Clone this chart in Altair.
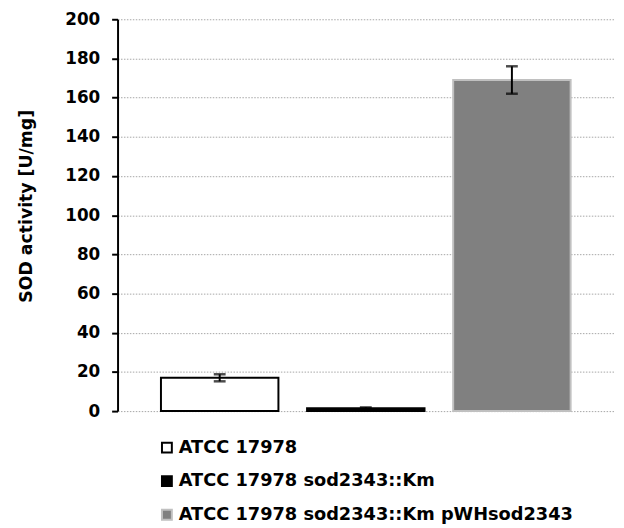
import altair as alt
import pandas as pd

strains = ["ATCC 17978", "ATCC 17978 sod2343::Km", "ATCC 17978 sod2343::Km pWHsod2343"]
activity = [17.0, 1.5, 169.0]
error = [1.8, 0.4, 7.0]
y_ticks = [0, 20, 40, 60, 80, 100, 120, 140, 160, 180, 200]

fills = ["#ffffff", "#000000", "#808080"]
strokes = ["#000000", "#000000", "#c0c0c0"]
stroke_widths = [2, 2, 1]

df = pd.DataFrame({
    "strain": strains,
    "activity": activity,
    "lo": [v - e for v, e in zip(activity, error)],
    "hi": [v + e for v, e in zip(activity, error)],
})

FONT = "DejaVu Sans"

x = alt.X("strain:N", scale=alt.Scale(domain=strains, paddingInner=0.196, paddingOuter=0.297), axis=None)
yscale = alt.Scale(domain=[0, 200], nice=False)
yaxis = alt.Axis(
    values=y_ticks, tickCount=11, title="SOD activity [U/mg]",
    labelOverlap=False,
    labelFont=FONT, labelFontSize=17, labelFontWeight="bold", labelColor="#000000",
    labelPadding=12,
    titleFont=FONT, titleFontSize=17.5, titleFontWeight="bold", titleColor="#000000",
    titleAngle=270, titleX=-92, titleY=189, titleAlign="center", titleBaseline="middle",
    domainColor="#000000", domainWidth=2, tickColor="#000000", tickWidth=2, tickSize=6,
    grid=True, gridColor="#a6a6a6", gridDash=[1.5, 1.5], gridWidth=1,
)

legend = alt.Legend(
    title=None, orient="none", legendX=41, legendY=425, direction="vertical",
    symbolType="square", symbolSize=100, symbolStrokeWidth=1.5,
    labelFont=FONT, labelFontSize=18, labelFontWeight="bold", labelColor="#000000",
    labelOffset=3, rowPadding=16, padding=0, labelLimit=600,
)

bars = alt.Chart(df).mark_bar().encode(
    x=x,
    y=alt.Y("activity:Q", scale=yscale, axis=yaxis),
    fill=alt.Fill("strain:N", scale=alt.Scale(domain=strains, range=fills), legend=legend),
    stroke=alt.Stroke("strain:N", scale=alt.Scale(domain=strains, range=strokes), legend=legend),
    strokeWidth=alt.StrokeWidth("strain:N", scale=alt.Scale(domain=strains, range=stroke_widths), legend=None),
)

rule = alt.Chart(df).mark_rule(color="#000000", strokeWidth=2).encode(
    x=x, y=alt.Y("lo:Q", scale=yscale, axis=yaxis), y2="hi:Q"
)
cap_lo = alt.Chart(df).mark_tick(color="#000000", size=12, thickness=2.5).encode(
    x=x, y=alt.Y("lo:Q", scale=yscale, axis=yaxis))
cap_hi = alt.Chart(df).mark_tick(color="#000000", size=12, thickness=2.5).encode(
    x=x, y=alt.Y("hi:Q", scale=yscale, axis=yaxis))

chart = alt.layer(bars, rule, cap_lo, cap_hi).properties(
    width=503, height=397,
    autosize=alt.AutoSizeParams(type="none"),
    padding={"left": 111, "top": 8, "right": 2, "bottom": 114},
).configure_view(stroke=None)

chart.save("out.html", embed_options={"renderer": "svg", "actions": False})
